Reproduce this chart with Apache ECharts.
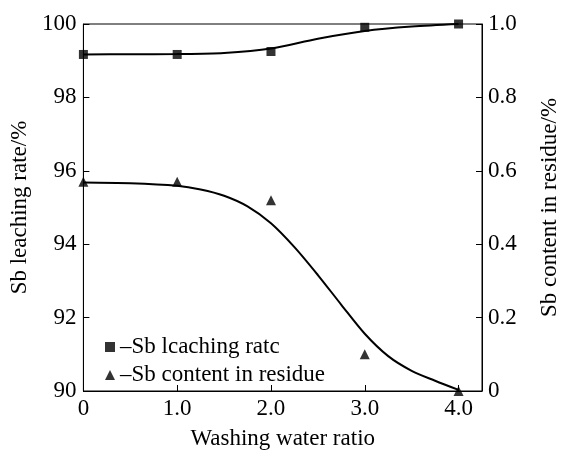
<!DOCTYPE html>
<html><head><meta charset="utf-8">
<script src="https://cdn.jsdelivr.net/npm/echarts@6/dist/echarts.min.js"></script>
<style>html,body{margin:0;padding:0;background:#fff}#c{width:569px;height:455px}</style>
</head><body><div id="c"></div>
<script>
// measured points
const ratioX = [0, 1.0, 2.0, 3.0, 4.0];
const leachingRate = [99.17, 99.17, 99.25, 99.91, 100.0];
const residueContent = [0.57, 0.57, 0.52, 0.10, 0.0];
// fitted curves
const leachFitX = [0, 0.5, 1.0, 1.5, 2.0, 2.5, 3.0, 3.5, 4.0];
const leachFitY = [99.17, 99.175, 99.18, 99.21, 99.33, 99.6, 99.81, 99.93, 100.0];
const residueFitX = [0, 0.5, 1.0, 1.25, 1.5, 1.75, 2.0, 2.25, 2.5, 2.75, 3.0, 3.25, 3.5, 3.75, 4.0];
const residueFitY = [0.568, 0.566, 0.559, 0.549, 0.532, 0.503, 0.457, 0.392, 0.316, 0.235, 0.156, 0.095, 0.055, 0.028, 0.003];
const xTicks = [0, 1, 2, 3, 4];
const names = ['Sb lcaching ratc', 'Sb content in residue'];

const zip = (a, b) => a.map((v, i) => [v, b[i]]);
const F = 'Liberation Serif';
const chart = echarts.init(document.getElementById('c'));
chart.setOption({
  animation: false,
  backgroundColor: '#fff',
  textStyle: { fontFamily: F, color: '#000' },
  grid: { left: 81, right: 73, top: 24, bottom: 56, show: true, borderColor: '#000', borderWidth: 1 },
  legend: {
    orient: 'vertical', left: 100, top: 330, itemWidth: 10, itemHeight: 10, itemGap: 4,
    data: [{ name: names[0], icon: 'rect' }, { name: names[1], icon: 'triangle' }],
    formatter: n => '\u2013' + n,
    textStyle: { fontFamily: F, fontSize: 23, color: '#000', lineHeight: 24 }
  },
  xAxis: {
    type: 'value', min: 0, max: 4.25, interval: 1,
    name: 'Washing water ratio', nameLocation: 'middle', nameGap: 36,
    nameTextStyle: { fontFamily: F, fontSize: 23, color: '#000' },
    axisLine: { lineStyle: { color: '#000', width: 1 } },
    axisTick: { inside: true, length: 6, lineStyle: { color: '#000' } },
    axisLabel: { fontFamily: F, fontSize: 23, color: '#000', margin: 6, showMaxLabel: false,
      formatter: v => xTicks.includes(v) ? (v === 0 ? '0' : v.toFixed(1)) : '' },
    splitLine: { show: false }
  },
  yAxis: [{
    type: 'value', min: 90, max: 100, interval: 2, position: 'left',
    name: 'Sb leaching rate/%', nameLocation: 'middle', nameGap: 52, nameRotate: 90,
    nameTextStyle: { fontFamily: F, fontSize: 23, color: '#000' },
    axisLine: { show: true, lineStyle: { color: '#000' } },
    axisTick: { show: true, inside: true, length: 6, lineStyle: { color: '#000' } },
    axisLabel: { fontFamily: F, fontSize: 23, color: '#000', margin: 7 },
    splitLine: { show: false }
  }, {
    type: 'value', min: 0, max: 1, interval: 0.2, position: 'right',
    name: 'Sb content in residue/%', nameLocation: 'middle', nameGap: 56, nameRotate: 90,
    nameTextStyle: { fontFamily: F, fontSize: 23, color: '#000' },
    axisLine: { show: true, lineStyle: { color: '#000' } },
    axisTick: { show: true, inside: true, length: 6, lineStyle: { color: '#000' } },
    axisLabel: { fontFamily: F, fontSize: 23, color: '#000', margin: 6,
      formatter: v => v === 0 ? '0' : v.toFixed(1) },
    splitLine: { show: false }
  }],
  series: [
    { type: 'line', yAxisIndex: 0, data: zip(leachFitX, leachFitY), smooth: 0.3, showSymbol: false,
      lineStyle: { color: '#000', width: 2 }, silent: true },
    { type: 'line', yAxisIndex: 1, data: zip(residueFitX, residueFitY), smooth: 0.3, showSymbol: false,
      lineStyle: { color: '#000', width: 2 }, silent: true },
    { name: names[0], type: 'scatter', yAxisIndex: 0, data: zip(ratioX, leachingRate),
      symbol: 'rect', symbolSize: 9, itemStyle: { color: '#000' }, clip: false },
    { name: names[1], type: 'scatter', yAxisIndex: 1, data: zip(ratioX, residueContent),
      symbol: 'triangle', symbolSize: 10, itemStyle: { color: '#000' }, clip: false }
  ]
});
</script></body></html>
